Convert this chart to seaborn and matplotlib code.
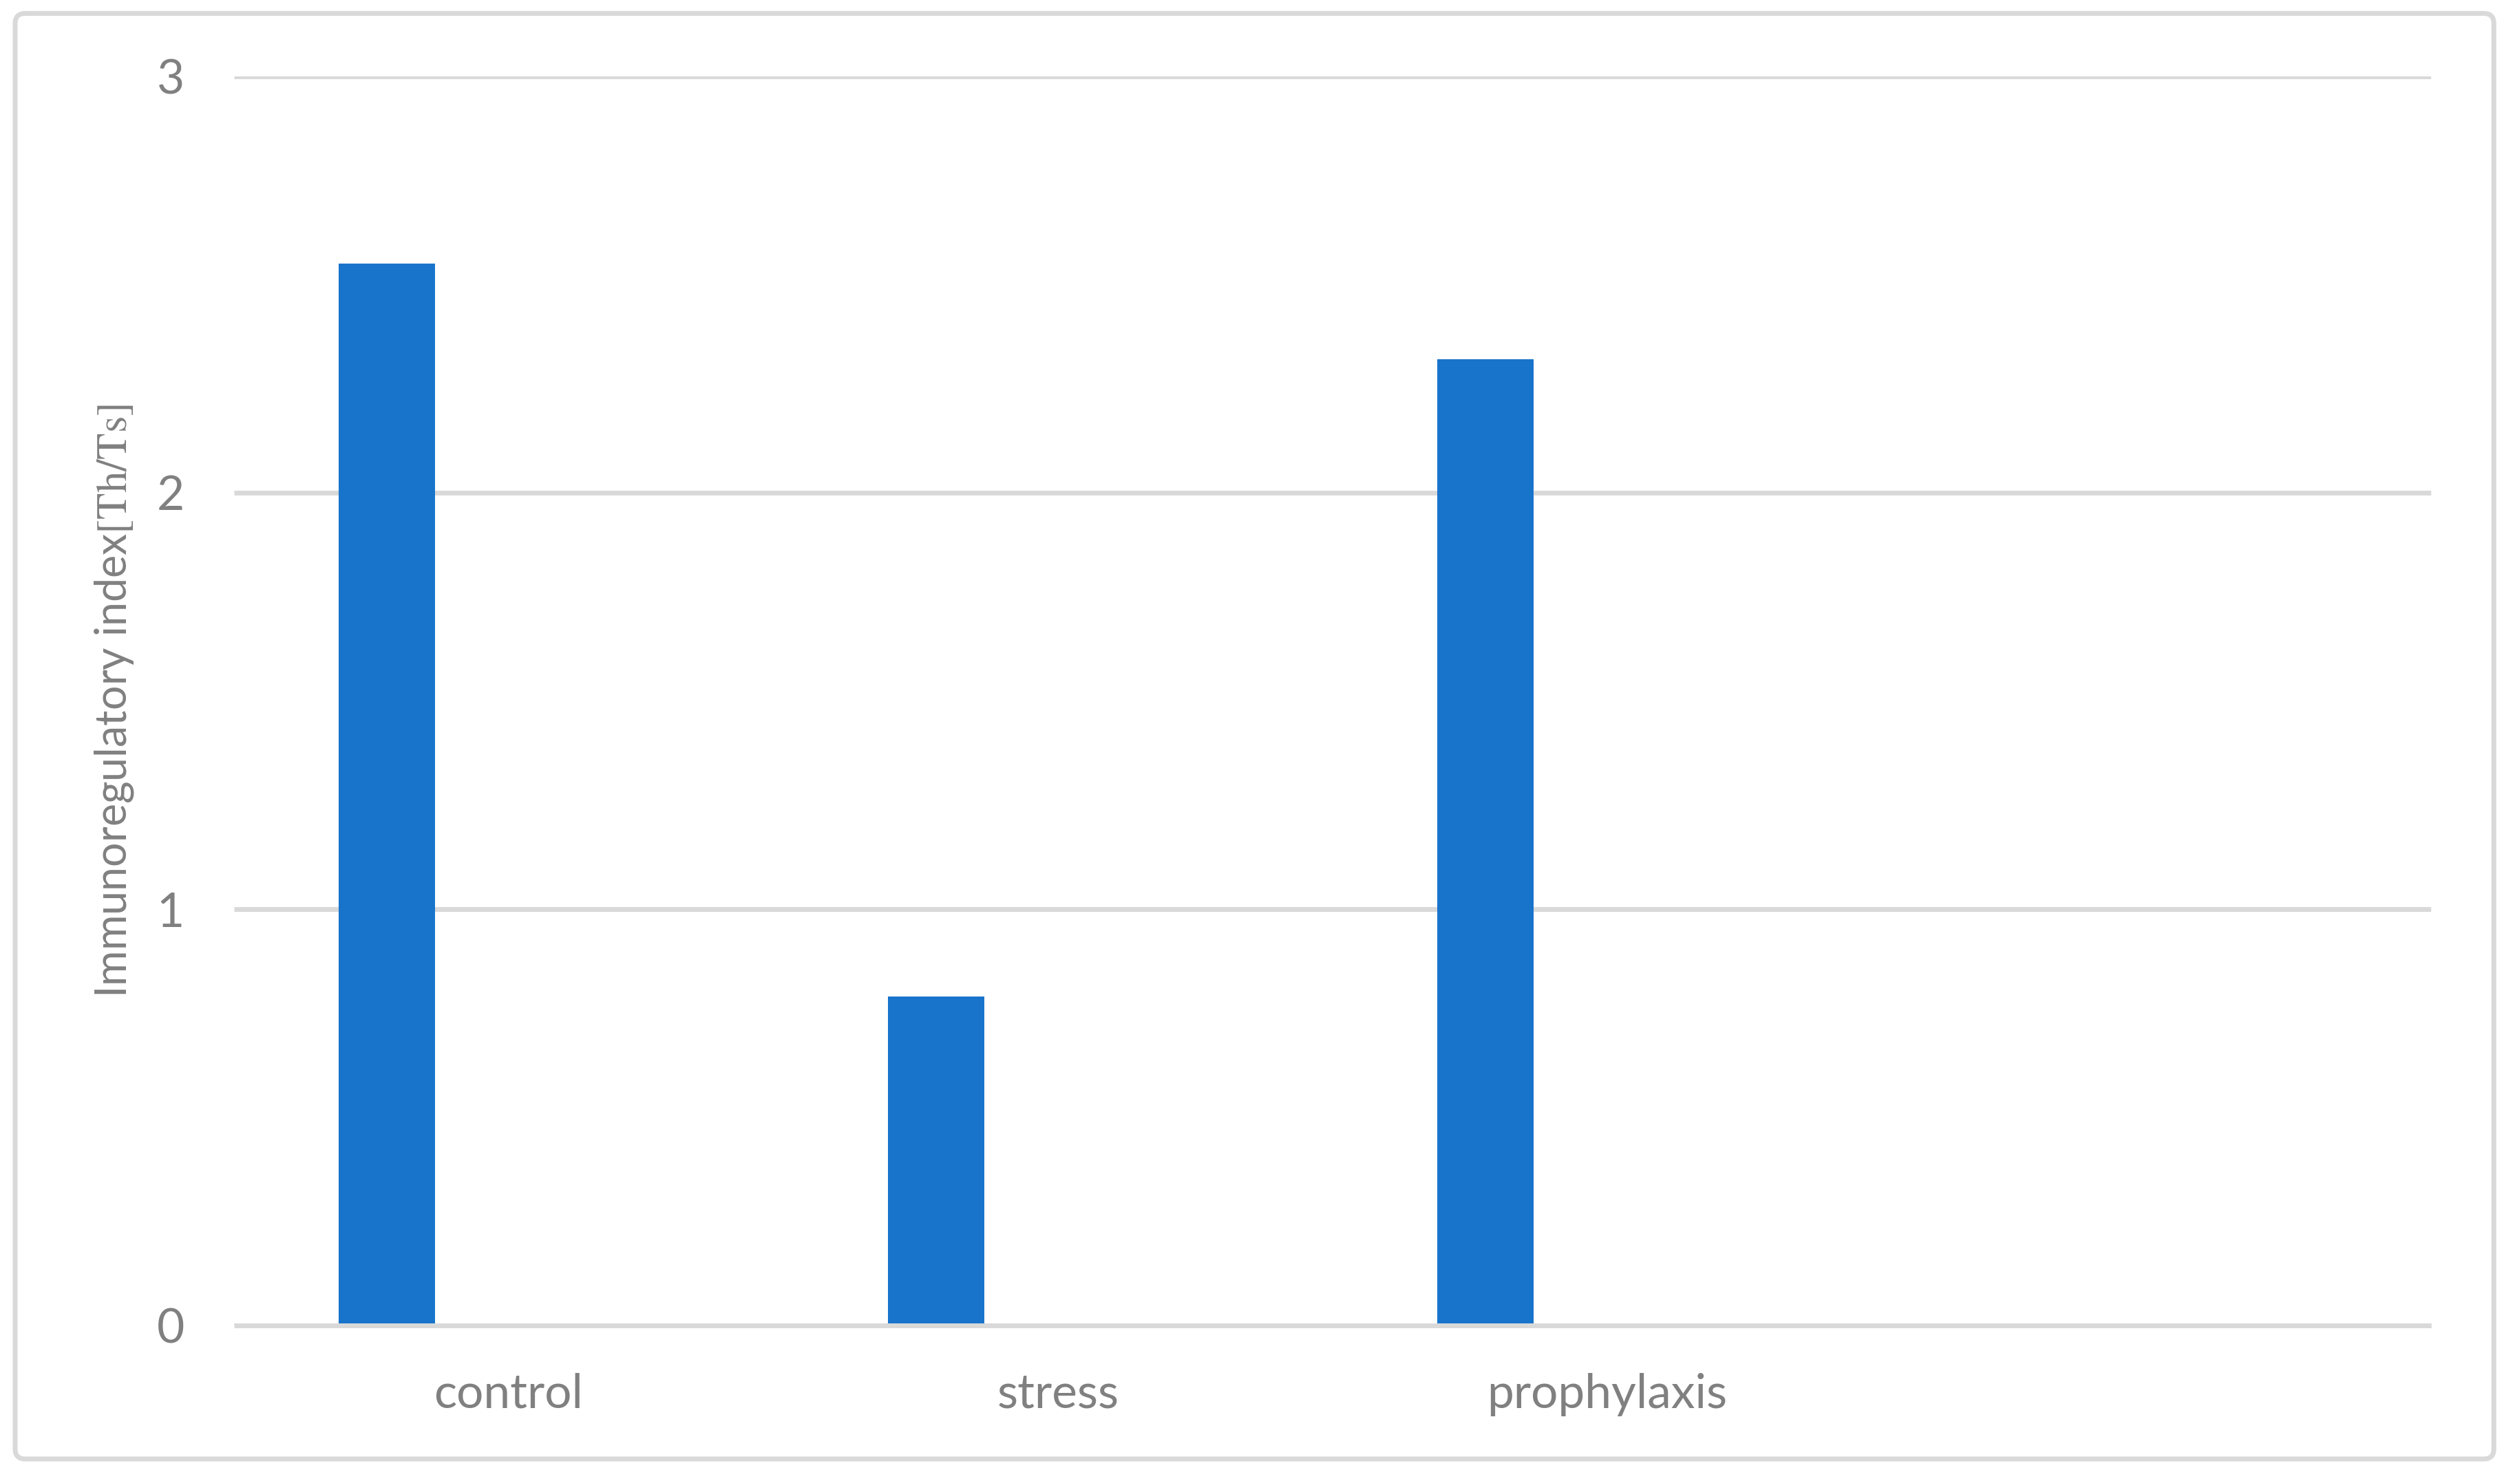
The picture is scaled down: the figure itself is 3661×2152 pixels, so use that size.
import matplotlib
matplotlib.use('Agg')
import matplotlib.pyplot as plt
import seaborn as sns
import pandas as pd
from matplotlib.patches import FancyBboxPatch

# ---- data ----
categories = ['control', 'stress', 'prophylaxis', ' ']
values = [2.55, 0.79, 2.32]
series_levels = ['Series 1', 'Series 2', 'Series 3']
y_ticks = [0, 1, 2, 3]
y_label = 'Immunoregulatory index$\\mathrm{[Th/Ts]}$'

df = pd.DataFrame({'group': categories[:len(values)],
                   'value': values,
                   'series': series_levels[0]})

sns.set_style('white')
plt.rcParams['font.family'] = ['Lato', 'DejaVu Sans']
plt.rcParams['mathtext.fontset'] = 'stix'

GRID = '#D9D9D9'
TXT = '#808080'
BAR = '#1874CB'

fig = plt.figure(figsize=(18.31, 10.76), dpi=200)
ax = fig.add_axes([0.09284, 0.10479, 0.87166, 0.84386])

sns.barplot(data=df, x='group', y='value', hue='series',
            order=categories, hue_order=series_levels,
            palette=[BAR] * len(series_levels), saturation=1,
            width=0.6654, gap=0.209, dodge=True, errorbar=None,
            linewidth=0, legend=False, ax=ax)

ax.set_ylim(0, 3)
ax.set_yticks(y_ticks)
ax.set_yticklabels([str(t) for t in y_ticks])
ax.set_axisbelow(True)
ax.yaxis.grid(True, color=GRID, linewidth=2.52, solid_capstyle='butt')
ax.xaxis.grid(False)
for s in ['left', 'top', 'right']:
    ax.spines[s].set_visible(False)
ax.spines['bottom'].set_color(GRID)
ax.spines['bottom'].set_linewidth(2.52)
ax.spines['bottom'].set_capstyle('butt')

ax.tick_params(axis='y', length=0, pad=26, labelsize=25, labelcolor=TXT)
ax.tick_params(axis='x', length=0, pad=24.5, labelsize=25, labelcolor=TXT)
ax.set_xlabel('')
ax.set_ylabel(y_label, fontsize=22.6, color=TXT, labelpad=11)

border = FancyBboxPatch((0.006, 0.01487), 0.98935 - 0.006, 0.99094 - 0.01487,
                        boxstyle='round,pad=0,rounding_size=0.004',
                        mutation_aspect=3662 / 2152,
                        transform=fig.transFigure, facecolor='none',
                        edgecolor=GRID, linewidth=2.52, zorder=-1)
fig.patches.append(border)

fig.savefig('out.png', dpi=200)
